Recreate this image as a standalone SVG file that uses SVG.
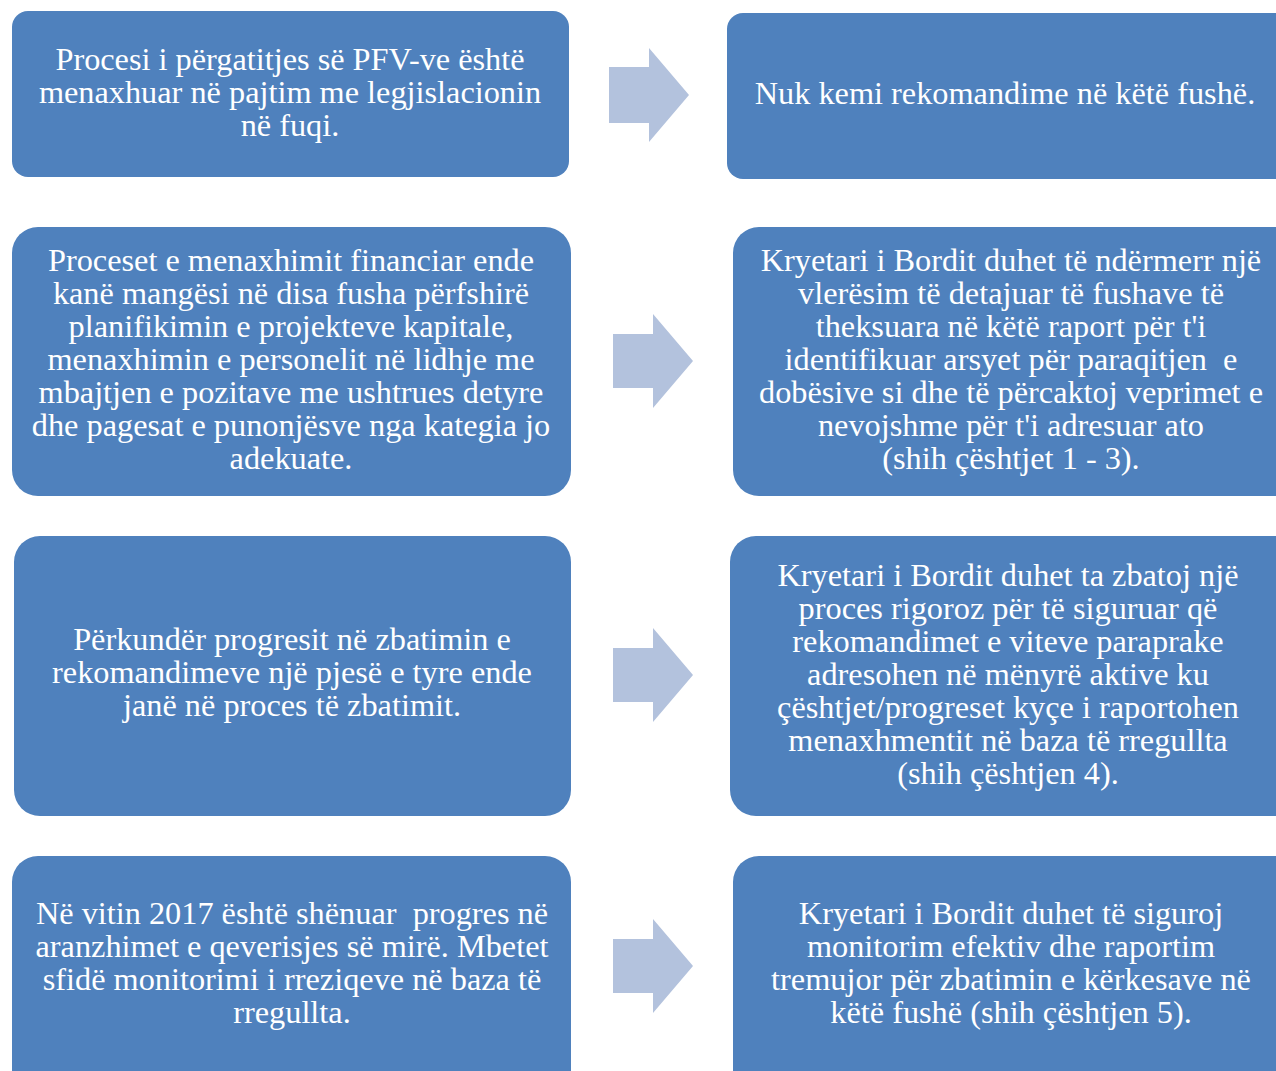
<svg xmlns="http://www.w3.org/2000/svg" width="1276" height="1071" viewBox="0 0 1276 1071">
<style>
.box{fill:#4F81BD;}
.arr{fill:#B3C2DD;}
text{font-family:"Liberation Serif","DejaVu Serif",serif;font-size:32.3px;fill:#FFFFFF;text-anchor:middle;}
</style>
<rect width="1276" height="1071" fill="#FFFFFF"/>
<g id="connectors">
<polygon class="arr" points="609,67 649,67 649,48 689,95 649,142 649,123 609,123"/>
<polygon class="arr" points="613,334 653,334 653,314 693,361 653,408 653,388 613,388"/>
<polygon class="arr" points="613,648 653,648 653,628 693,675 653,722 653,702 613,702"/>
<polygon class="arr" points="613,939 653,939 653,919 693,966 653,1013 653,993 613,993"/>
</g>
<g id="n1">
<rect class="box" x="12" y="11" width="557" height="166" rx="16"/>
<text x="290" y="70">Procesi i përgatitjes së PFV-ve është</text>
<text x="290" y="103">menaxhuar në pajtim me legjislacionin</text>
<text x="290" y="136">në fuqi.</text>
</g>
<g id="n2">
<rect class="box" x="727" y="13" width="570" height="166" rx="16"/>
<text x="1005" y="104">Nuk kemi rekomandime në këtë fushë.</text>
</g>
<g id="n3">
<rect class="box" x="12" y="227" width="559" height="269" rx="26"/>
<text x="291" y="271">Proceset e menaxhimit financiar ende</text>
<text x="291" y="304">kanë mangësi në disa fusha përfshirë</text>
<text x="291" y="337">planifikimin e projekteve kapitale,</text>
<text x="291" y="370">menaxhimin e personelit në lidhje me</text>
<text x="291" y="403">mbajtjen e pozitave me ushtrues detyre</text>
<text x="291" y="436">dhe pagesat e punonjësve nga kategia jo</text>
<text x="291" y="469">adekuate.</text>
</g>
<g id="n4">
<rect class="box" x="733" y="227" width="570" height="269" rx="26"/>
<text x="1011" y="271">Kryetari i Bordit duhet të ndërmerr një</text>
<text x="1011" y="304">vlerësim të detajuar të fushave të</text>
<text x="1011" y="337">theksuara në këtë raport për t'i</text>
<text x="1011" y="370" xml:space="preserve">identifikuar arsyet për paraqitjen  e</text>
<text x="1011" y="403">dobësive si dhe të përcaktoj veprimet e</text>
<text x="1011" y="436">nevojshme për t'i adresuar ato</text>
<text x="1011" y="469">(shih çështjet 1 - 3).</text>
</g>
<g id="n5">
<rect class="box" x="14" y="536" width="557" height="280" rx="26"/>
<text x="292" y="650">Përkundër progresit në zbatimin e</text>
<text x="292" y="683">rekomandimeve një pjesë e tyre ende</text>
<text x="292" y="716">janë në proces të zbatimit.</text>
</g>
<g id="n6">
<rect class="box" x="730" y="536" width="570" height="280" rx="26"/>
<text x="1008" y="586">Kryetari i Bordit duhet ta zbatoj një</text>
<text x="1008" y="619">proces rigoroz për të siguruar që</text>
<text x="1008" y="652">rekomandimet e viteve paraprake</text>
<text x="1008" y="685">adresohen në mënyrë aktive ku</text>
<text x="1008" y="718">çështjet/progreset kyçe i raportohen</text>
<text x="1008" y="751">menaxhmentit në baza të rregullta</text>
<text x="1008" y="784">(shih çështjen 4).</text>
</g>
<g id="n7">
<rect class="box" x="12" y="856" width="559" height="240" rx="26"/>
<text x="292" y="924" xml:space="preserve">Në vitin 2017 është shënuar  progres në</text>
<text x="292" y="957">aranzhimet e qeverisjes së mirë. Mbetet</text>
<text x="292" y="990">sfidë monitorimi i rreziqeve në baza të</text>
<text x="292" y="1023">rregullta.</text>
</g>
<g id="n8">
<rect class="box" x="733" y="856" width="570" height="240" rx="26"/>
<text x="1011" y="924">Kryetari i Bordit duhet të siguroj</text>
<text x="1011" y="957">monitorim efektiv dhe raportim</text>
<text x="1011" y="990">tremujor për zbatimin e kërkesave në</text>
<text x="1011" y="1023">këtë fushë (shih çështjen 5).</text>
</g>
</svg>
